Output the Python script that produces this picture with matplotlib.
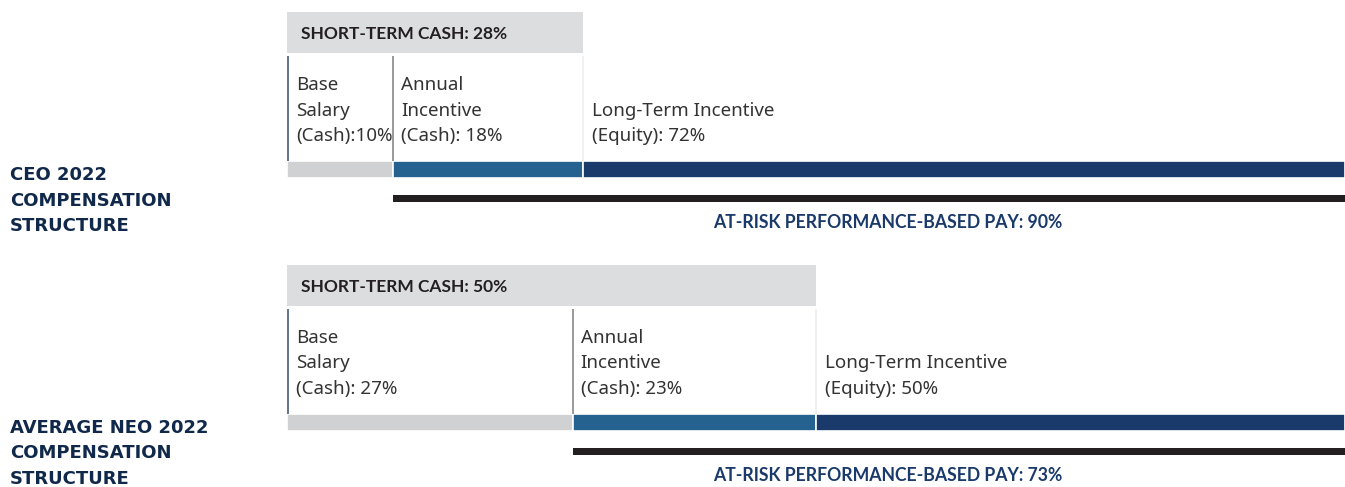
import matplotlib
matplotlib.use("Agg")
import matplotlib.pyplot as plt
import numpy as np

# data
groups = [["CEO 2022", "COMPENSATION", "STRUCTURE"],
          ["AVERAGE NEO 2022", "COMPENSATION", "STRUCTURE"]]
base_salary = [10, 27]
annual_incentive = [18, 23]
long_term = [72, 50]
short_term_cash = [28, 50]
at_risk = [90, 73]
base_labels = [["Base", "Salary", "(Cash):10%"], ["Base", "Salary", "(Cash): 27%"]]
annual_labels = [["Annual", "Incentive", "(Cash): 18%"], ["Annual", "Incentive", "(Cash): 23%"]]
lti_labels = [["Long-Term Incentive", "(Equity): 72%"], ["Long-Term Incentive", "(Equity): 50%"]]

NAVY = "#1a3a6b"
MID_BLUE = "#25628f"
GRAY_BAR = "#d0d1d3"
HEADER_GRAY = "#dcdddf"
DARK = "#231f20"
TITLE_NAVY = "#10284a"
LABEL = "#333333"

W, H = 1345, 487
fig = plt.figure(figsize=(W / 100, H / 100), dpi=100)
ax = fig.add_axes([0, 0, 1, 1])
px = 10.58  # pixels per percent
x0 = 287 / px
ax.set_xlim(-x0, (W - 287) / px)
ax.set_ylim(H, 0)
ax.axis("off")

LINE = 25.5
label_kw = dict(fontsize=13.5, color=LABEL, va="baseline", ha="left", family="Noto Sans")


def stack(x, y, lines, **kw):
    for k, s in enumerate(lines):
        ax.text(x, y + k * LINE, s, **kw)


for i in range(2):
    off = 253 * i
    lefts = np.cumsum([0, base_salary[i], annual_incentive[i]])
    widths = [base_salary[i], annual_incentive[i], long_term[i]]
    colors = [GRAY_BAR, MID_BLUE, NAVY]
    ax.barh([off + 169.5] * 3, widths, left=lefts, height=17, color=colors,
            edgecolor="white", linewidth=1.2)

    # header box for short-term cash
    ax.barh(off + 32.5, short_term_cash[i], left=0, height=41, color=HEADER_GRAY)
    ax.text(14 / px, off + 39, f"SHORT-TERM CASH: {short_term_cash[i]}%",
            fontsize=12.5, fontweight="bold", color=DARK, va="baseline", ha="left",
            family="Lato")

    # separators between components
    ax.vlines(0.1, off + 56, off + 161, color="#4a5a78", lw=1.2)
    ax.vlines(lefts[1] + 0.05, off + 56, off + 161, color="#888888", lw=1.2)
    ax.vlines(lefts[2], off + 56, off + 161, color="#eeeeee", lw=1.2)

    # component labels
    stack(9 / px, off + 90, base_labels[i], **label_kw)
    stack(lefts[1] + 8 / px, off + 90, annual_labels[i], **label_kw)
    stack(lefts[2] + 9 / px, off + 90 + LINE, lti_labels[i], **label_kw)

    # at-risk bracket
    risk_left = 100 - at_risk[i]
    ax.barh(off + 198, at_risk[i], left=risk_left, height=7, color=DARK)
    ax.text((888 - 287) / px, off + 228,
            f"AT-RISK PERFORMANCE-BASED PAY: {at_risk[i]}%",
            fontsize=12.7, fontweight="bold", color=NAVY, va="baseline", ha="center",
            family="Lato")

    # group title
    for k, s in enumerate(groups[i]):
        ax.text(-x0 + 10 / px, off + 180 + k * 25.5, s, fontsize=13, fontweight="bold",
                color=TITLE_NAVY, va="baseline", ha="left", family="DejaVu Sans")

fig.savefig("out.png", dpi=100)
